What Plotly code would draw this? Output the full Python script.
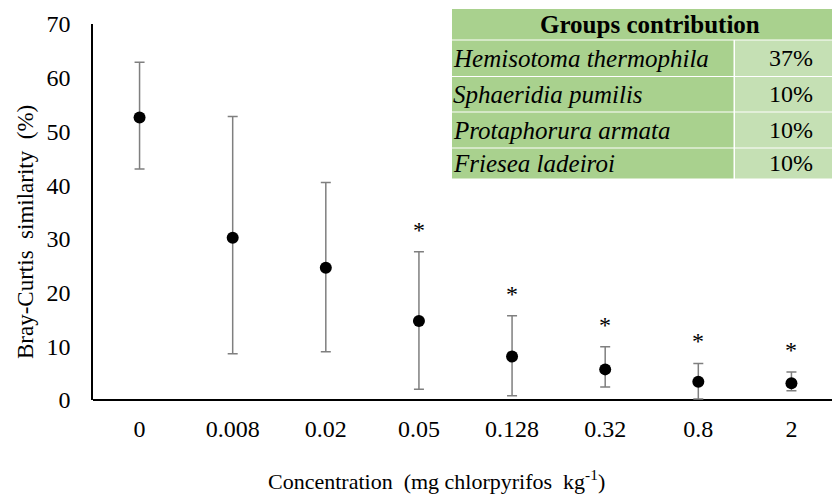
import plotly.graph_objects as go

# ---- data ----
concentrations = ["0", "0.008", "0.02", "0.05", "0.128", "0.32", "0.8", "2"]
similarity_mean = [52.6, 30.2, 24.6, 14.7, 8.1, 5.7, 3.4, 3.1]
upper_bound = [62.9, 52.8, 40.5, 27.6, 15.7, 9.9, 6.8, 5.2]
lower_bound = [43.0, 8.6, 9.0, 2.0, 0.8, 2.4, 0.2, 1.7]
significant = [False, False, False, True, True, True, True, True]

table_title = "Groups contribution"
species = ["Hemisotoma thermophila", "Sphaeridia pumilis", "Protaphorura armata", "Friesea ladeiroi"]
contribution = ["37%", "10%", "10%", "10%"]

NB = "\u00a0"
x_title = "Concentration" + NB * 2 + "(mg chlorpyrifos" + NB * 2 + "kg<sup>-1</sup>)"
y_title = "Bray-Curtis" + NB * 2 + "similarity" + NB * 2 + "(%)"

err_plus = [u - m for u, m in zip(upper_bound, similarity_mean)]
err_minus = [m - l for m, l in zip(similarity_mean, lower_bound)]

FONT = "Liberation Serif, Times New Roman, serif"
OFF = 8  # page body margin in the browser
W, H = 840 - OFF, 495 - OFF
ML, MR, MT, MB = 93 - OFF, 2, 24 - OFF, 95

fig = go.Figure()
fig.add_trace(go.Scatter(
    x=concentrations, y=similarity_mean, mode="markers",
    marker=dict(color="black", size=12),
    error_y=dict(type="data", symmetric=False, array=err_plus, arrayminus=err_minus,
                 color="#7f7f7f", thickness=1.5, width=5),
    showlegend=False,
))

# significance stars
for i, (u, s) in enumerate(zip(upper_bound, significant)):
    if s:
        fig.add_annotation(x=i, y=u, text="*", showarrow=False, yanchor="middle",
                           xanchor="center", yshift=22,
                           font=dict(family=FONT, size=24, color="black"))

# helpers to convert screen pixel positions to paper coords
pw = W - ML - MR
ph = H - MT - MB
def px(x):
    return (x - OFF - ML) / pw
def py(y):
    return (H - MB - (y - OFF)) / ph

# axis titles
fig.add_annotation(xref="paper", yref="paper", x=px(436), y=py(480), text=x_title,
                   showarrow=False, xanchor="center", yanchor="middle",
                   font=dict(family=FONT, size=22, color="black"))
fig.add_annotation(xref="paper", yref="paper", x=px(25), y=py(232), text=y_title,
                   textangle=-90, showarrow=False, xanchor="center", yanchor="middle",
                   font=dict(family=FONT, size=23, color="black"))

# table
t_left, t_split, t_right = 452, 734, 845
row_edges = [9, 39.5, 76, 111.5, 147.5, 178.5]
green = "#a9d18e"
light = "#c5e0b4"
fig.add_shape(type="rect", xref="paper", yref="paper",
              x0=px(t_left), x1=px(t_right), y0=py(row_edges[1]), y1=py(row_edges[0]),
              fillcolor=green, line=dict(width=0), layer="above")
fig.add_annotation(xref="paper", yref="paper", x=px(650),
                   y=py((row_edges[0] + row_edges[1]) / 2), text="<b>" + table_title + "</b>",
                   showarrow=False, xanchor="center", yanchor="middle",
                   font=dict(family=FONT, size=25, color="black"))
for i, (sp, ct) in enumerate(zip(species, contribution)):
    y0 = row_edges[i + 1] + 1
    y1 = row_edges[i + 2]
    fig.add_shape(type="rect", xref="paper", yref="paper",
                  x0=px(t_left), x1=px(t_split - 0.5), y0=py(y1), y1=py(y0),
                  fillcolor=green, line=dict(width=0), layer="above")
    fig.add_shape(type="rect", xref="paper", yref="paper",
                  x0=px(t_split + 1), x1=px(t_right), y0=py(y1), y1=py(y0),
                  fillcolor=light, line=dict(width=0), layer="above")
    fig.add_annotation(xref="paper", yref="paper", x=px(t_left - 1), y=py((y0 + y1) / 2),
                       text="<i>" + sp + "</i>", showarrow=False, xanchor="left",
                       yanchor="middle",
                       font=dict(family=FONT, size=25, color="black"))
    fig.add_annotation(xref="paper", yref="paper", x=px(791), y=py((y0 + y1) / 2),
                       text=ct, showarrow=False, xanchor="center", yanchor="middle",
                       font=dict(family=FONT, size=24, color="black"))

fig.update_layout(
    width=W, height=H,
    margin=dict(l=ML, r=MR, t=MT, b=MB, autoexpand=False),
    plot_bgcolor="white", paper_bgcolor="white",
    font=dict(family=FONT, size=24, color="black"),
    xaxis=dict(type="category", range=[-0.5, 7.5], showgrid=False, zeroline=False,
               showline=False, ticks="", tickfont=dict(size=24), ticklabelstandoff=12),
    yaxis=dict(range=[0, 70], dtick=10, showgrid=False, zeroline=True, zerolinecolor="black",
               zerolinewidth=1.5, showline=True, linecolor="black", linewidth=1.5,
               ticks="", tickfont=dict(size=24), ticklabelstandoff=16),
)

fig.write_html("out.html")
